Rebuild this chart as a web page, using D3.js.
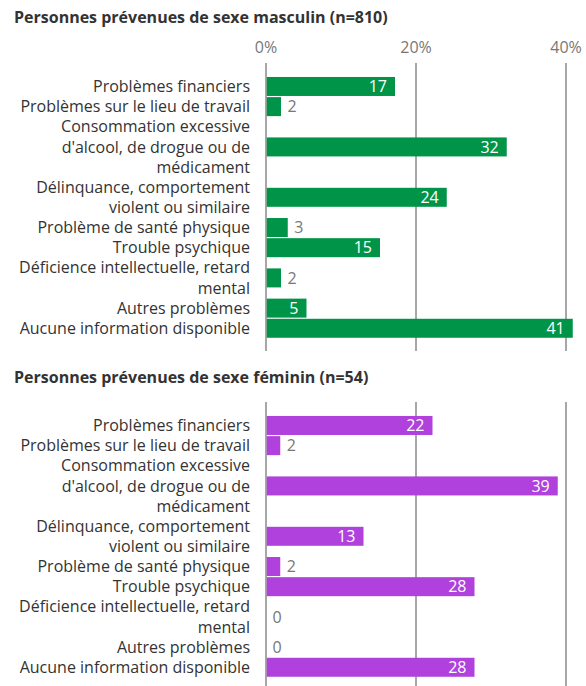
<!DOCTYPE html>
<html>
<head>
<meta charset="utf-8">
<script src="https://cdn.jsdelivr.net/npm/d3@7"></script>
<style>
  body { margin: 0; background: #fff; }
  text { font-family: "Open Sans", "Noto Sans", sans-serif; }
</style>
</head>
<body>
<svg id="chart" width="586" height="686"></svg>
<script>
// categories, lines separated by "|"
var categories = [
  "Problèmes financiers",
  "Problèmes sur le lieu de travail",
  "Consommation excessive|d'alcool, de drogue ou de|médicament",
  "Délinquance, comportement|violent ou similaire",
  "Problème de santé physique",
  "Trouble psychique",
  "Déficience intellectuelle, retard|mental",
  "Autres problèmes",
  "Aucune information disponible"
];
// shares in % (labels are rounded)
var maleValues = [17.2, 2.0, 32.1, 24.1, 2.9, 15.2, 2.0, 5.4, 40.9];
var femaleValues = [22.2, 1.9, 38.9, 13.0, 1.9, 27.8, 0, 0, 27.8];
var tickValues = [0, 20, 40];
var panelTitles = ["Personnes prévenues de sexe masculin (n=810)", "Personnes prévenues de sexe féminin (n=54)"];
var colors = ["#009448", "#b041dc"];

var svg = d3.select("#chart");
var fmt = d3.format(".0f");

var xScale = d3.scaleLinear()
  .domain([0, 40])
  .range([266, 566]);

// each row takes as many text lines as its label has
var rows = [];
var acc = 0;
categories.forEach(function(c) {
  var lines = c.split("|");
  rows.push({ label: lines, start: acc, n: lines.length });
  acc += lines.length;
});
var totalLines = acc;
var lineH = 20.15;

function drawPanel(offset, title, values, color, showTicks, gridBottom) {
  var g = svg.append("g").attr("transform", "translate(0," + offset + ")");

  var yScale = d3.scaleLinear()
    .domain([0, totalLines])
    .range([76.4, 76.4 + totalLines * lineH]);

  g.append("text")
    .attr("x", 14)
    .attr("y", showTicks ? 23 : 44)
    .attr("font-size", "16px")
    .attr("font-weight", "bold")
    .attr("fill", "#333")
    .text(title);

  if (showTicks) {
    g.selectAll(".tick-label")
      .data(tickValues)
      .enter().append("text")
      .attr("x", function(d) { return xScale(d); })
      .attr("y", 53)
      .attr("text-anchor", "middle")
      .attr("font-size", "16px")
      .attr("fill", "#777")
      .text(function(d) { return d + "%"; });
  }

  g.selectAll(".grid")
    .data(tickValues)
    .enter().append("line")
    .attr("x1", function(d) { return xScale(d); })
    .attr("x2", function(d) { return xScale(d); })
    .attr("y1", 63)
    .attr("y2", gridBottom)
    .attr("stroke", "#8a8a8a")
    .attr("stroke-width", 1.5);

  var row = g.selectAll(".row")
    .data(rows.map(function(r, i) { return { r: r, v: values[i] }; }))
    .enter().append("g");

  row.append("rect")
    .attr("x", xScale(0) + 0.75)
    .attr("y", function(d) { return yScale(d.r.start + d.r.n / 2) - 9.5; })
    .attr("width", function(d) { return Math.max(0, xScale(d.v) - xScale(0) - 0.75); })
    .attr("height", 19)
    .attr("fill", color);

  row.each(function(d) {
    var sel = d3.select(this);
    var cy = yScale(d.r.start + d.r.n / 2);
    d.r.label.forEach(function(line, k) {
      sel.append("text")
        .attr("x", 250)
        .attr("y", cy + (k - (d.r.n - 1) / 2) * lineH)
        .attr("dy", "0.35em")
        .attr("text-anchor", "end")
        .attr("font-size", "16px")
        .attr("fill", "#333")
        .text(line);
    });
    var w = xScale(d.v) - xScale(0);
    var inside = w > 30;
    sel.append("text")
      .attr("x", inside ? xScale(d.v) - 8 : xScale(d.v) + 6.5)
      .attr("y", cy)
      .attr("dy", "0.35em")
      .attr("text-anchor", inside ? "end" : "start")
      .attr("font-size", "16px")
      .attr("fill", inside ? "#fff" : "#777")
      .text(fmt(d.v));
  });
}

drawPanel(0, panelTitles[0], maleValues, colors[0], true, 351);
drawPanel(339, panelTitles[1], femaleValues, colors[1], false, 360);
</script>
</body>
</html>
